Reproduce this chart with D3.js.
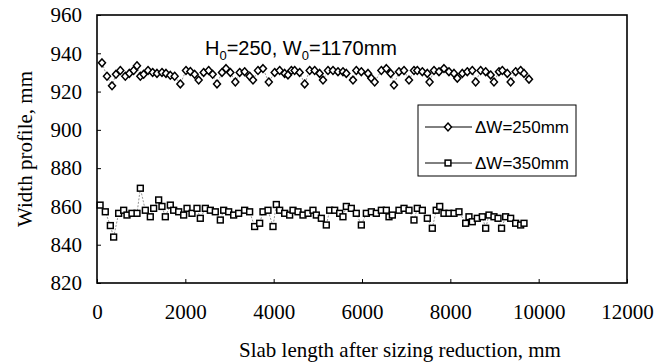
<!DOCTYPE html>
<html><head><meta charset="utf-8">
<script src="https://cdn.jsdelivr.net/npm/d3@7"></script>
<style>body{margin:0;background:#fff}svg{display:block}</style>
</head><body>
<svg id="c" width="667" height="364"></svg>
<script>
const xTicks = [0,2000,4000,6000,8000,10000,12000];
const yTicks = [820,840,860,880,900,920,940,960];
const seriesNames = ["\u0394W=250mm","\u0394W=350mm"];
const s1x = [113,226,340,430,528,641,732,830,905,981,1056,1155,1260,1358,1471,1562,1660,1758,1887,2015,2113,2211,2302,2415,2528,2619,2717,2830,2921,3019,3132,3230,3343,3456,3532,3645,3758,3890,4023,4136,4249,4324,4400,4475,4588,4702,4815,4928,5041,5117,5230,5343,5456,5569,5645,5796,5871,5985,6136,6211,6287,6438,6551,6649,6724,6837,6951,7064,7177,7252,7366,7479,7530,7630,7743,7856,7969,8083,8158,8271,8384,8497,8573,8686,8800,8913,8988,9101,9177,9290,9366,9479,9592,9668,9781];
const s1y = [935,928,923,929,931,928,929.5,931,933.5,928,929,931,930,929.5,930,929.5,928.5,928,924,931,930.5,929,926,930,931,929,924,930,932,930,925,930,930.4,928,926,931,932,925,930,931,929.5,928.7,931,931,930,924,931,931,929.5,926,931,931,930.4,930.4,929.5,926,931,930.4,929.5,927,925,931,932,929.5,923.4,930.4,931,926,931,931,930.4,929.5,925,931,930.4,932,930.4,929.5,927,929.5,930.4,931,925,931,930.4,928.7,925,930.4,931,929.5,925,930.4,931,929.5,926.5];
const s2x = [70,188,302,377,490,604,679,792,906,981,1094,1207,1283,1396,1471,1547,1660,1736,1849,1962,2038,2151,2264,2339,2453,2566,2679,2792,2868,2981,3094,3207,3343,3456,3569,3683,3758,3872,3985,4060,4136,4249,4362,4438,4551,4664,4777,4890,4966,5079,5192,5268,5381,5494,5569,5645,5758,5871,5985,6098,6211,6324,6438,6551,6611,6687,6837,6951,7064,7177,7252,7366,7479,7592,7680,7760,7856,7969,8083,8196,8347,8422,8497,8611,8724,8800,8875,8988,9080,9160,9252,9366,9479,9592,9668];
const s2y = [860.7,857.2,850,844,856.4,858,855.5,856.4,856.4,869.5,858,854.6,859,863.4,860,854.6,860.7,858,857.2,855.5,859,856.4,859,853.8,859,858,857.2,852.9,858,857.2,855.5,856.4,858,857.2,849.5,851.2,857.2,858,849.5,861,858,856.4,855.5,858,857.2,855.5,856.4,858,855.5,853.8,850.3,858,858,856.4,854.6,860,859,856.4,850.3,856.4,857.2,856.4,858,858,854.6,855.5,858,859,858,852.9,859,858,853.8,848.6,858,860,856.4,856.4,856.4,857.2,851.2,854.6,852,853.8,854.6,848.6,855.5,854.6,853.8,848.6,854.6,853.8,851.2,850.3,851.2];

const svg = d3.select("#c");
const L=97,R=627,T=15,B=283;
const x = d3.scaleLinear().domain([0,12000]).range([L,R]);
const y = d3.scaleLinear().domain([820,960]).range([B,T]);
const serif = "'Liberation Serif','Times New Roman',serif";
const sans = "'Liberation Sans',Arial,sans-serif";

const gx = svg.append("g").attr("transform",`translate(0,${B})`)
  .call(d3.axisBottom(x).tickValues(xTicks).tickSize(-4).tickPadding(21).tickFormat(d3.format("d")));
const gy = svg.append("g").attr("transform",`translate(${L},0)`)
  .call(d3.axisLeft(y).tickValues(yTicks).tickSize(-4).tickPadding(15).tickFormat(d3.format("d")));
[gx,gy].forEach(g=>{
  g.select(".domain").remove();
  g.selectAll("line").attr("stroke","#000").attr("stroke-width",1);
  g.selectAll("text").attr("fill","#000").style("font-family",serif).style("font-size","21px");
});
svg.append("rect").attr("x",L).attr("y",T).attr("width",R-L).attr("height",B-T)
  .attr("fill","none").attr("stroke","#000").attr("stroke-width",1.6);

function diamond(g,cx,cy){ g.append("path").attr("d",`M${cx},${cy-3.9}L${cx+3.5},${cy}L${cx},${cy+3.9}L${cx-3.5},${cy}Z`).attr("fill","#fff").attr("stroke","#000").attr("stroke-width",1.5); }
function square(g,cx,cy){ g.append("rect").attr("x",cx-2.9).attr("y",cy-2.9).attr("width",5.8).attr("height",5.8).attr("fill","#fff").attr("stroke","#000").attr("stroke-width",1.5); }

const line = d3.line().x(d=>x(d[0])).y(d=>y(d[1]));
const d1 = s1x.map((v,i)=>[v,s1y[i]]);
const d2 = s2x.map((v,i)=>[v,s2y[i]]);
[d1,d2].forEach(d=>svg.append("path").attr("d",line(d)).attr("fill","none").attr("stroke","#666").attr("stroke-width",0.7).attr("stroke-dasharray","2,1.5"));
const m = svg.append("g");
d1.forEach(d=>diamond(m,x(d[0]),y(d[1])));
d2.forEach(d=>square(m,x(d[0]),y(d[1])));

// annotation
const ann = svg.append("text").attr("x",205).attr("y",55).style("font-family",sans).style("font-size","20px").attr("fill","#000");
ann.append("tspan").text("H");
ann.append("tspan").attr("dy",5).style("font-size","13px").text("0");
ann.append("tspan").attr("dy",-5).text("=250, W");
ann.append("tspan").attr("dy",5).style("font-size","13px").text("0");
ann.append("tspan").attr("dy",-5).text("=1170mm");

// legend
svg.append("rect").attr("x",418).attr("y",105).attr("width",158).attr("height",71).attr("fill","#fff").attr("stroke","#000").attr("stroke-width",1);
const ly=[127,163];
ly.forEach((yy,i)=>{
  svg.append("line").attr("x1",425).attr("x2",472).attr("y1",yy).attr("y2",yy).attr("stroke","#000").attr("stroke-width",1);
  if(i===0) diamond(svg,448,yy); else square(svg,448,yy);
  svg.append("text").attr("x",475).attr("y",yy).attr("dy","0.36em").style("font-family",sans).style("font-size","17px").attr("fill","#000").text(seriesNames[i]);
});

// axis titles
svg.append("text").attr("x",400).attr("y",357).attr("text-anchor","middle").style("font-family",serif).style("font-size","21px").attr("fill","#000").text("Slab length after sizing reduction, mm");
svg.append("text").attr("transform","translate(25,149) rotate(-90)").attr("text-anchor","middle").attr("dy","0.35em").style("font-family",serif).style("font-size","21px").attr("fill","#000").text("Width profile, mm");
</script>
</body></html>
